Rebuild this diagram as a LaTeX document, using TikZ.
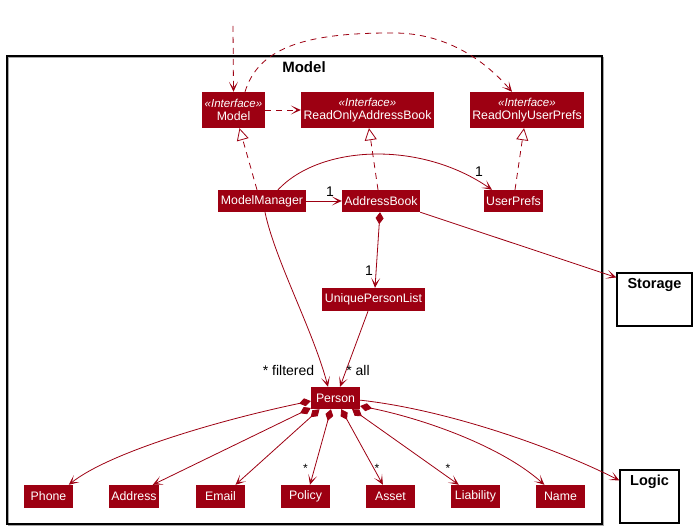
\documentclass[tikz,border=0pt]{standalone}
\usepackage{fontspec}
\setmainfont{Liberation Sans}
\usetikzlibrary{arrows.meta}
\definecolor{mc}{HTML}{9D0012}
\tikzset{
  cls/.style={fill=mc, text=white, inner sep=0pt, align=center, font=\fontsize{12.3}{13.5}\selectfont},
  conn/.style={draw=mc, line width=0.8pt},
  tipa/.style={-{Stealth[length=10pt,width=9pt,inset=6pt]}},
  dep/.style={conn, tipa, dash pattern=on 6pt off 5pt},
  assoc/.style={conn, tipa},
  comp/.style={conn, {Diamond[length=12pt,width=8pt]}-{Stealth[length=10pt,width=9pt,inset=6pt]}},
  realz/.style={conn, dash pattern=on 6pt off 5pt, -{Triangle[open,fill=white,length=12pt,width=12pt]}},
  pkg/.style={draw=black, line width=1.3pt, fill=white, inner sep=0pt},
  lbl/.style={font=\fontsize{14}{15}\selectfont, inner sep=0pt},
  star/.style={font=\fontsize{12}{13}\selectfont, inner sep=0pt},
  ptitle/.style={font=\bfseries\fontsize{14.5}{16}\selectfont, inner sep=0pt}
}
\newcommand{\intf}[1]{{\fontsize{11.5}{12.5}\selectfont\itshape «Interface»}\\{#1}}
\begin{document}
\begin{tikzpicture}[x=1pt,y=-1pt]
\useasboundingbox (0,0) rectangle (696,529);
% Model package frame
\draw[draw=black!35, line width=1.2pt] (8.5,57.5) rectangle (603.5,525.5);
\draw[draw=black, line width=1.2pt] (7,56) rectangle (602,524);
\node[ptitle, font=\bfseries\fontsize{15}{16}\selectfont] (mtitle) at (304,67) {Model};

% classes
\node[cls, minimum width=63pt, minimum height=36pt] (model) at (233.5,110) {\intf{Model}};
\node[cls, minimum width=133pt, minimum height=36pt] (roab) at (367.5,110) {\intf{ReadOnlyAddressBook}};
\node[cls, minimum width=114pt, minimum height=36pt] (roup) at (527,110) {\intf{ReadOnlyUserPrefs}};
\node[cls, minimum width=88pt, minimum height=22pt] (mm) at (262,201) {ModelManager};
\node[cls, minimum width=78pt, minimum height=22pt] (ab) at (381,201) {AddressBook};
\node[cls, minimum width=59pt, minimum height=22pt] (up) at (513.5,201) {UserPrefs};
\node[cls, minimum width=103pt, minimum height=23pt] (upl) at (373.5,299.5) {UniquePersonList};
\node[cls, minimum width=49pt, minimum height=22pt] (person) at (335.5,398) {Person};
\node[cls, minimum width=49pt, minimum height=23pt] (phone) at (48.5,496.5) {Phone};
\node[cls, minimum width=50pt, minimum height=23pt] (address) at (134,496.5) {Address};
\node[cls, minimum width=49pt, minimum height=23pt] (email) at (220.5,496.5) {Email};
\node[cls, minimum width=49pt, minimum height=23pt] (policy) at (305.5,496.5) {Policy};
\node[cls, minimum width=49pt, minimum height=23pt] (asset) at (390.5,496.5) {Asset};
\node[cls, minimum width=49pt, minimum height=23pt] (liability) at (475.5,496.5) {Liability};
\node[cls, minimum width=49pt, minimum height=23pt] (name) at (560.5,496.5) {Name};

% outside packages
\node[pkg, minimum width=75pt, minimum height=53pt,
  label={[ptitle, anchor=north, yshift=-5.5pt]north:Storage}] (storage) at (654.5,299.5) {};
\node[pkg, minimum width=59pt, minimum height=53pt,
  label={[ptitle, anchor=north, yshift=-5.5pt]north:Logic}] (logic) at (649.5,496.5) {};

% external entry
\coordinate (ext) at (233,26);
\draw[dep] (ext) -- (model.north);

% dependencies of Model
\draw[dep] (model.east) -- (roab.west);
\draw[dep] ([xshift=11.5pt]model.north) .. controls (258,50) and (300,33) .. (390,33)
   .. controls (440,32) and (480,55) .. ([xshift=-15pt]roup.north);

% realizations
\draw[realz] ([xshift=-5pt]mm.north) -- ([xshift=6pt]model.south);
\draw[realz] ([xshift=-3pt]ab.north) -- ([xshift=1.5pt]roab.south);
\draw[realz] ([xshift=1.5pt]up.north) -- ([xshift=-3pt]roup.south);

% associations
\draw[assoc] (mm.east) -- (ab.west);
\node[lbl] (l1) at (330,192) {1};
\draw[assoc] ([xshift=16pt]mm.north) .. controls (320,145) and (420,140) .. ([xshift=-21.5pt]up.north);
\node[lbl] (l2) at (479,172) {1};
\draw[comp] ([xshift=-1pt]ab.south) -- ([xshift=1.5pt]upl.north);
\node[lbl] (l3) at (369,271) {1};
\draw[assoc] (ab.south east) -- (storage.150);
\draw[assoc] ([xshift=3pt]mm.south) .. controls (275,260) and (313,330) .. ([xshift=-7.5pt]person.north);
\node[lbl] (l4) at (288.5,370) {* filtered};
\draw[assoc] ([xshift=-5.5pt]upl.south) -- ([xshift=4.5pt]person.north);
\node[lbl] (l5) at (358,370) {* all};

% Person compositions
\draw[comp] (person.187) .. controls (220,420) and (110,452) .. (phone.30);
\draw[comp] (person.202) -- (address.32);
\draw[comp] (person.215) -- (email.38);
\draw[comp] (person.248) -- (policy.69);
\node[star] (s1) at (305.5,468) {*};
\draw[comp] (person.297) -- (asset.123);
\node[star] (s2) at (377,468) {*};
\draw[comp] (person.326) -- (liability.145);
\node[star] (s3) at (448,468) {*};
\draw[comp] (person.342) .. controls (420,418) and (500,445) .. (name.144);
\draw[assoc] (person.355) .. controls (450,410) and (560,450) .. (logic.152);
\end{tikzpicture}
\end{document}
